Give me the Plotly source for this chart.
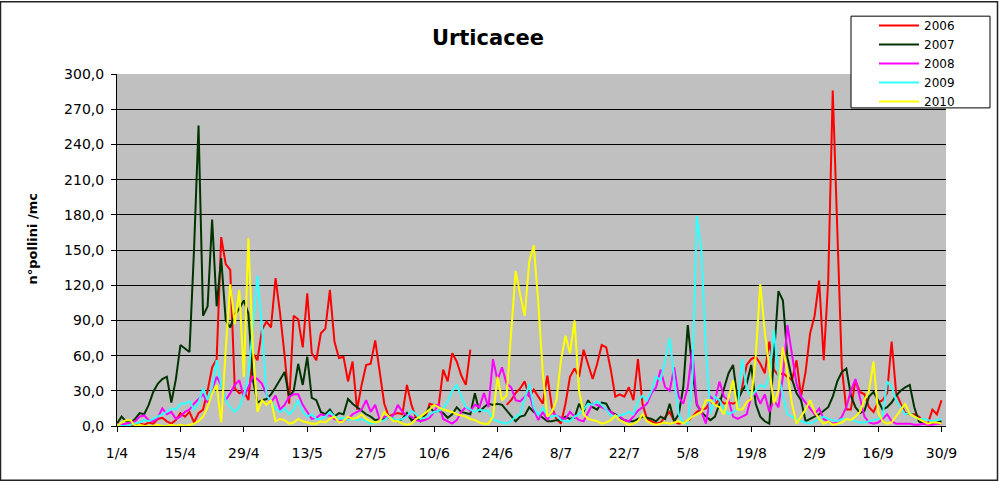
import plotly.graph_objects as go
import pandas as pd

# ---------------- data ----------------
tick_labels = ["1/4", "15/4", "29/4", "13/5", "27/5", "10/6", "24/6", "8/7",
               "22/7", "5/8", "19/8", "2/9", "16/9", "30/9"]
y_tick_labels = ["0,0", "30,0", "60,0", "90,0", "120,0", "150,0", "180,0",
                 "210,0", "240,0", "270,0", "300,0"]
y_tick_vals = [0, 30, 60, 90, 120, 150, 180, 210, 240, 270, 300]

N = None
s2006 = [0, 0, 0, 1, 0, 2, 1, 3, 2, 6, 7, 4, 2, 5, 11, 8, 12, 3, 11, 14,
         30, 50, 57, 161, 138, 133, 32, 28, 30, 22, 62, 56, 82, 89, 84, 126, 96, 60, 19, 94,
         91, 67, 113, 62, 56, 79, 83, 116, 72, 58, 59, 38, 55, 14, 35, 52, 53, 73, 45, 19,
         8, 10, 11, 10, 35, 18, 7, 5, 6, 19, 18, 17, 48, 38, 62, 55, 43, 35, 65, N,
         N, N, N, N, N, N, 18, 22, 28, 32, 38, 25, 31, 25, 19, 43, 16, 6, 2, 19,
         42, 49, 42, 65, 53, 40, 53, 69, 67, 48, 25, 27, 25, 33, 22, 57, 19, 6, 4, 2,
         3, 8, 12, 4, 2, 3, 4, 8, 12, 14, 15, 21, 18, 23, 19, 20, 19, 21, 33, 52,
         57, 59, 53, 45, 72, 48, 43, 45, 42, 39, 56, 25, 46, 79, 94, 124, 56, 124, 286, 158,
         50, 14, 14, 39, 29, 27, 16, 12, 20, 22, 28, 72, 28, 19, 11, 10, 10, 8, 4, 2,
         14, 10, 22]
s2007 = [2, 8, 4, 3, 6, 11, 10, 18, 29, 36, 40, 42, 20, 40, 69, 66, 63, 150, 256, 94,
         102, 176, 102, 143, 90, 84, 95, 100, 107, 96, 39, 20, 22, 23, 27, 33, 40, 46, 25, 30,
         53, 35, 59, 24, 22, 12, 10, 14, 8, 11, 10, 23, 19, 16, 13, 10, 8, 5, 6, 6,
         8, 6, 4, 6, 11, 5, 7, 4, 10, 16, 12, 13, 11, 7, 10, 16, 12, 11, 10, 28,
         12, 16, 19, 18, 19, 18, 13, 9, 4, 8, 9, 16, 12, 10, 7, 4, 4, 5, 5, 8,
         6, 7, 19, 12, 22, 16, 14, 20, 19, 12, 10, 7, 5, 4, 4, 6, 8, 7, 6, 4,
         8, 6, 19, 4, 10, 33, 86, 48, 18, 12, 8, 5, 8, 19, 33, 45, 52, 22, 30, 36,
         52, 19, 8, 4, 2, 60, 115, 107, 58, 40, 28, 22, 4, 6, 8, 10, 13, 16, 25, 38,
         46, 49, 26, 16, 11, 13, 25, 29, 22, 14, 16, 20, 26, 30, 33, 35, 16, 4, 2, 2,
         2, 3, 4]
s2008 = [2, 1, 2, 3, 4, 8, 9, 5, 4, 7, 15, 10, 12, 6, 8, 12, 14, 19, 23, 27,
         20, 32, 42, 35, 22, 28, 35, 39, 25, 33, 42, 40, 36, 27, 20, 26, 14, 18, 25, 27,
         27, 18, 12, 6, 7, 10, 9, 9, 6, 5, 4, 6, 10, 12, 14, 22, 12, 18, 5, 8,
         7, 9, 18, 12, 9, 8, 5, 4, 5, 7, 12, 19, 6, 4, 2, 5, 12, 16, 13, 18,
         16, 28, 16, 57, 39, 50, 36, 33, 22, 21, 25, 28, 14, 5, 12, 5, 12, 9, 7, 6,
         12, 8, 5, 4, 12, 19, 18, 16, 14, 12, 9, 8, 5, 4, 8, 13, 16, 19, 28, 33,
         48, 33, 30, 50, 25, 19, 33, 65, 19, 12, 2, 25, 22, 38, 25, 22, 8, 6, 8, 10,
         25, 28, 19, 27, 12, 22, 16, 42, 86, 62, 36, 25, 20, 15, 10, 15, 6, 4, 2, 3,
         8, 16, 30, 40, 25, 8, 3, 2, 3, 6, 10, 4, 2, 2, 2, 2, 1, 1, 2, 1,
         1, 2, 2]
s2009 = [1, 0, 0, 1, 2, 3, 5, 4, 6, 8, 10, 12, 15, 14, 19, 19, 21, 14, 20, 32,
         22, 33, 56, 35, 22, 16, 12, 16, 26, 43, 84, 128, 84, 26, 21, 15, 12, 15, 10, 14,
         22, 12, 8, 10, 6, 6, 8, 12, 8, 6, 7, 5, 6, 5, 6, 4, 2, 3, 4, 5,
         8, 6, 5, 6, 8, 13, 10, 6, 7, 10, 12, 13, 15, 21, 30, 35, 25, 16, 14, 12,
         14, 13, 13, 6, 4, 3, 2, 4, 8, 10, 22, 36, 16, 9, 16, 9, 8, 9, 5, 4,
         4, 8, 10, 14, 19, 18, 21, 18, 14, 9, 8, 9, 10, 12, 10, 21, 26, 22, 30, 42,
         39, 56, 75, 40, 10, 3, 2, 40, 179, 150, 65, 10, 25, 22, 14, 10, 12, 14, 57, 32,
         25, 30, 35, 33, 42, 82, 43, 26, 10, 8, 6, 4, 3, 2, 4, 6, 8, 6, 5, 4,
         6, 6, 5, 4, 3, 3, 4, 5, 6, 8, 38, 33, 22, 16, 10, 11, 8, 6, 6, 5,
         4, 5, 6]
s2010 = [0, 3, 5, 5, 0, 1, 0, 0, 0, 1, 0, 0, 1, 0, 1, 0, 1, 2, 4, 8,
         16, 28, 35, 3, 65, 121, 87, 116, 42, 160, 65, 12, 22, 18, 22, 4, 6, 5, 2, 3,
         6, 4, 3, 2, 2, 4, 3, 6, 8, 3, 4, 8, 6, 7, 10, 6, 4, 3, 4, 12,
         8, 4, 4, 2, 1, 2, 6, 8, 11, 14, 18, 16, 14, 13, 12, 10, 9, 8, 6, 5,
         3, 2, 2, 8, 42, 22, 26, 75, 132, 112, 94, 140, 154, 105, 45, 8, 12, 22, 56, 77,
         62, 90, 30, 10, 6, 5, 4, 2, 3, 5, 9, 5, 3, 1, 2, 4, 10, 4, 2, 1,
         2, 3, 2, 3, 4, 2, 5, 8, 10, 12, 22, 22, 18, 16, 10, 25, 39, 14, 14, 20,
         23, 60, 121, 80, 48, 19, 30, 67, 45, 19, 2, 8, 14, 22, 12, 6, 2, 4, 1, 2,
         3, 6, 5, 8, 12, 22, 30, 55, 12, 4, 2, 3, 8, 14, 19, 10, 8, 6, 4, 2,
         3, 3, 2]

series_names = ["2006", "2007", "2008", "2009", "2010"]
series_values = [s2006, s2007, s2008, s2009, s2010]
series_colors = ["#FF0000", "#003300", "#FF00FF", "#33FFFF", "#FFFF00"]

dates = pd.date_range("2006-04-01", "2006-09-30", freq="D")
tick_dates = pd.date_range("2006-04-01", "2006-09-30", freq="14D")

# ---------------- figure ----------------
fig = go.Figure()
for name, vals, col in zip(series_names, series_values, series_colors):
    fig.add_trace(go.Scatter(x=dates, y=vals, mode="lines", name=name,
                             line=dict(color=col, width=2), connectgaps=False))

W, H = 999, 482
L, R, T, B = 117, 946, 73, 426


def px2x(p):
    return (p - L) / (R - L)


def px2y(p):
    return (B - p) / (B - T)


FONT = "DejaVu Sans, Liberation Sans, Arial, sans-serif"

fig.update_layout(
    width=W, height=H,
    margin=dict(l=L, r=W - R, t=T, b=H - B, pad=0),
    paper_bgcolor="white",
    plot_bgcolor="#C0C0C0",
    font=dict(family=FONT, size=14, color="black"),
    title=dict(text="<b>Urticacee</b>", x=488 / W, xanchor="center",
               y=1 - 38 / H, yanchor="middle", font=dict(size=21, family=FONT)),
    showlegend=True,
    legend=dict(x=px2x(874), y=px2y(11), xanchor="left", yanchor="top",
                bgcolor="rgba(0,0,0,0)", borderwidth=0, itemwidth=40,
                font=dict(size=12, family=FONT), tracegroupgap=0),
    xaxis=dict(range=["2006-04-01", "2006-10-01"], tickvals=tick_dates, ticktext=tick_labels,
               showgrid=False, showline=True, linecolor="black", linewidth=1,
               ticks="outside", ticklen=5, tickcolor="black", zeroline=False,
               ticklabelstandoff=9),
    yaxis=dict(range=[0, 300], tickvals=y_tick_vals, ticktext=y_tick_labels,
               showgrid=True, gridcolor="black", gridwidth=1,
               showline=True, linecolor="black", linewidth=1,
               ticks="outside", ticklen=5, tickcolor="black", zeroline=False,
               ticklabelstandoff=4),
    annotations=[dict(text="<b>n°pollini /mc</b>", textangle=-90, x=px2x(33), y=px2y(238),
                      xref="paper", yref="paper", xanchor="center", yanchor="middle",
                      showarrow=False, font=dict(size=13, family=FONT))],
    shapes=[
        dict(type="rect", xref="paper", yref="paper", layer="above",
             x0=px2x(851), x1=px2x(990), y0=px2y(107), y1=px2y(15),
             fillcolor="white", line=dict(color="black", width=1)),
        dict(type="rect", xref="paper", yref="paper", layer="above",
             x0=px2x(0.5), x1=px2x(997.5), y0=px2y(480.5), y1=px2y(0.5),
             fillcolor="rgba(0,0,0,0)", line=dict(color="#222222", width=1.5)),
    ],
)

fig.write_html("out.html")
